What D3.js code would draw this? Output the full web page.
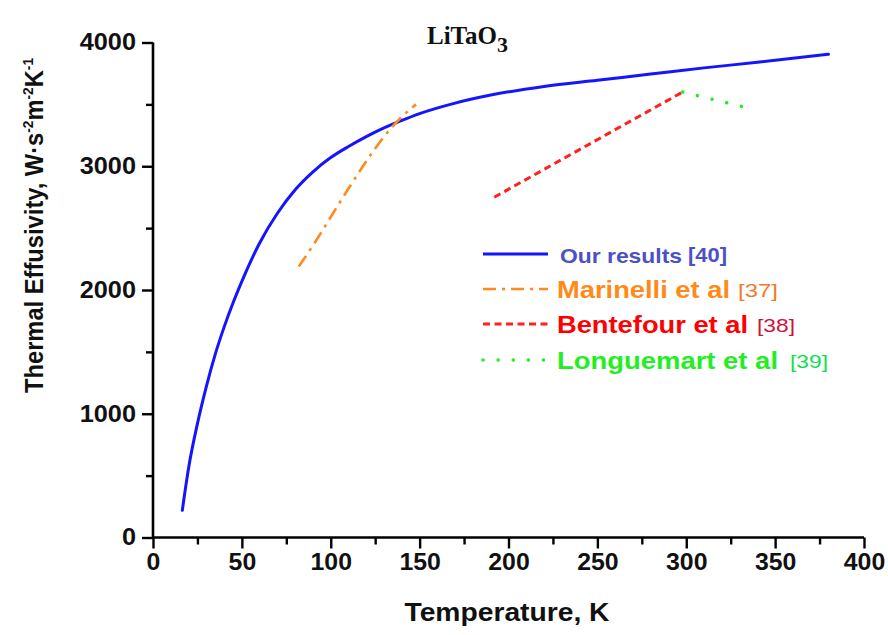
<!DOCTYPE html>
<html>
<head>
<meta charset="utf-8">
<script src="https://cdn.jsdelivr.net/npm/d3@7"></script>
<style>
  body { margin: 0; background: #fff; }
  svg { display: block; }
</style>
</head>
<body>
<svg id="chart" width="888" height="635"></svg>
<script>
// ---------------- DATA ----------------
const xTicks = [0, 50, 100, 150, 200, 250, 300, 350, 400];
const yTicks = [0, 1000, 2000, 3000, 4000];

// Our results [40]
const ourT = [16.5, 20, 25, 30, 35, 40, 45, 50, 60, 70, 80, 90, 100, 110, 120, 130, 140, 150, 170, 190, 220, 250, 280, 310, 340, 380];
const ourE = [220, 560, 920, 1220, 1480, 1700, 1895, 2070, 2380, 2620, 2810, 2955, 3070, 3160, 3240, 3310, 3370, 3425, 3510, 3575, 3645, 3695, 3745, 3795, 3840, 3905];

// Marinelli et al [37]
const marT = [82, 90, 100, 110, 120, 130, 140, 148];
const marE = [2190, 2360, 2590, 2820, 3040, 3240, 3400, 3500];

// Bentefour et al [38]
const benT = [192, 298];
const benE = [2750, 3600];

// Longuemart et al [39]
const lonT = [298, 335];
const lonE = [3600, 3470];

const legendNames = ["Our results", "Marinelli et al", "Bentefour et al", "Longuemart et al"];
const legendRefs = ["[40]", "[37]", "[38]", "[39]"];

// ---------------- DRAW ----------------
const svg = d3.select("#chart");
const x = d3.scaleLinear().domain([0, 400]).range([153, 864]);
const y = d3.scaleLinear().domain([0, 4000]).range([537.5, 42.5]);

const tickFont = "'Liberation Sans', Arial, sans-serif";

const xMinor = d3.range(25, 400, 50);
const yMinor = d3.range(500, 4000, 1000);

const gx = svg.append("g").attr("transform", `translate(0,${y(0)})`);
gx.call(d3.axisBottom(x).tickValues(xTicks).tickSize(11).tickPadding(5).tickFormat(d3.format("d")));
const gxm = gx.append("g").call(d3.axisBottom(x).tickValues(xMinor).tickSize(7).tickFormat(""));
gxm.select("path.domain").remove();
gx.selectAll("path.domain").attr("stroke-width", 2.6);
gx.selectAll(".tick line").attr("stroke-width", 2.4);
gx.selectAll(".tick text")
  .attr("font-family", tickFont).attr("font-weight", "bold").attr("font-size", 23)
  .attr("fill", "#111")
  .each(function() {
    const w = this.getComputedTextLength();
    d3.select(this).attr("textLength", w * 1.08).attr("lengthAdjust", "spacingAndGlyphs");
  });

const gy = svg.append("g").attr("transform", `translate(${x(0)},0)`);
gy.call(d3.axisLeft(y).tickValues(yTicks).tickSize(11).tickPadding(6).tickFormat(d3.format("d")));
const gym = gy.append("g").call(d3.axisLeft(y).tickValues(yMinor).tickSize(7).tickFormat(""));
gym.select("path.domain").remove();
gy.selectAll("path.domain").attr("stroke-width", 2.6);
gy.selectAll(".tick line").attr("stroke-width", 2.4);
gy.selectAll(".tick text")
  .attr("font-family", tickFont).attr("font-weight", "bold").attr("font-size", 23)
  .attr("fill", "#111")
  .each(function() {
    const w = this.getComputedTextLength();
    d3.select(this).attr("textLength", w * 1.1).attr("lengthAdjust", "spacingAndGlyphs");
  });
gx.select("path.domain").attr("d", `M${x(0) - 1},0H${x(400)}`);
gy.select("path.domain").attr("d", `M0,${y(4000)}V${y(0) + 1}`);

// Lines
const zip = (a, b) => a.map((v, i) => [v, b[i]]);
const smooth = d3.line().x(d => x(d[0])).y(d => y(d[1])).curve(d3.curveMonotoneX);
const straight = d3.line().x(d => x(d[0])).y(d => y(d[1]));

svg.append("path").datum(zip(ourT, ourE))
  .attr("fill", "none").attr("stroke", "#1414ff").attr("stroke-width", 3)
  .attr("stroke-linecap", "round")
  .attr("d", smooth);

svg.append("path").datum(zip(marT, marE))
  .attr("fill", "none").attr("stroke", "#ff8a1a").attr("stroke-width", 2.6)
  .attr("stroke-dasharray", "13,6,3,6")
  .attr("d", smooth);

svg.append("path").datum(zip(benT, benE))
  .attr("fill", "none").attr("stroke", "#ff2020").attr("stroke-width", 3)
  .attr("stroke-dasharray", "7,4.5")
  .attr("d", straight);

svg.append("path").datum(zip(lonT, lonE))
  .attr("fill", "none").attr("stroke", "#22ee22").attr("stroke-width", 3.5)
  .attr("stroke-linecap", "round")
  .attr("stroke-dasharray", "0.1,15")
  .attr("d", straight);

// Title
const title = svg.append("text")
  .attr("x", 427).attr("y", 44)
  .attr("font-family", "'Liberation Serif', 'Times New Roman', serif")
  .attr("font-weight", "bold").attr("font-size", 25).attr("fill", "#111");
title.append("tspan").text("LiTaO");
title.append("tspan").attr("font-size", 22).attr("dy", 8).text("3");

// Axis titles
svg.append("text")
  .attr("x", 507).attr("y", 621)
  .attr("text-anchor", "middle")
  .attr("font-family", tickFont).attr("font-weight", "bold").attr("font-size", 25)
  .attr("fill", "#111")
  .attr("textLength", 205).attr("lengthAdjust", "spacingAndGlyphs")
  .text("Temperature, K");

const yt = svg.append("text")
  .attr("transform", "translate(43,393) rotate(-90)")
  .attr("font-family", tickFont).attr("font-weight", "bold").attr("font-size", 26)
  .attr("fill", "#111")
  .attr("textLength", 335).attr("lengthAdjust", "spacingAndGlyphs");
yt.append("tspan").text("Thermal Effusivity, W·s");
yt.append("tspan").attr("font-size", 15).attr("dy", -10).text("-2");
yt.append("tspan").attr("dy", 10).text("m");
yt.append("tspan").attr("font-size", 15).attr("dy", -10).text("-2");
yt.append("tspan").attr("dy", 10).text("K");
yt.append("tspan").attr("font-size", 15).attr("dy", -10).text("-1");

// Legend
const legY = [254, 289, 324, 360];
const legLineStyles = [
  { stroke: "#1414ff", dash: null, w: 3, cap: "butt" },
  { stroke: "#ff8a1a", dash: "13,6,3,6", w: 2.6, cap: "butt" },
  { stroke: "#ff2020", dash: "7,4.5", w: 3, cap: "butt" },
  { stroke: "#22ee22", dash: "0.1,15", w: 3.5, cap: "round" }
];
const legNameColors = ["#4b50c8", "#ff8a1a", "#ff0000", "#22ee22"];
const legRefColors = ["#4b50c8", "#f07a28", "#d0103a", "#10e050"];
const legNameX = [560, 557, 557, 557];
const legNameLen = [122, 173, 191, 221];
const legNameSize = [21, 24, 24, 24];
const legRefX = [688, 738, 757, 790];
const legRefLen = [39, 40, 38, 38];
const legRefSize = [21, 19, 19, 19];
const legRefWeight = ["bold", "normal", "normal", "normal"];

legendNames.forEach((name, i) => {
  const s = legLineStyles[i];
  svg.append("line")
    .attr("x1", 483).attr("x2", i === 3 ? 549 : 548)
    .attr("y1", legY[i]).attr("y2", legY[i])
    .attr("stroke", s.stroke).attr("stroke-width", s.w)
    .attr("stroke-linecap", s.cap)
    .attr("stroke-dasharray", s.dash);
  svg.append("text")
    .attr("x", legNameX[i]).attr("y", legY[i] + 9)
    .attr("font-family", tickFont).attr("font-weight", "bold")
    .attr("font-size", legNameSize[i]).attr("fill", legNameColors[i])
    .attr("textLength", legNameLen[i]).attr("lengthAdjust", "spacingAndGlyphs")
    .text(name);
  svg.append("text")
    .attr("x", legRefX[i]).attr("y", legY[i] + 8)
    .attr("font-family", tickFont).attr("font-weight", legRefWeight[i])
    .attr("font-size", legRefSize[i]).attr("fill", legRefColors[i])
    .attr("textLength", legRefLen[i]).attr("lengthAdjust", "spacingAndGlyphs")
    .text(legendRefs[i]);
});
</script>
</body>
</html>
